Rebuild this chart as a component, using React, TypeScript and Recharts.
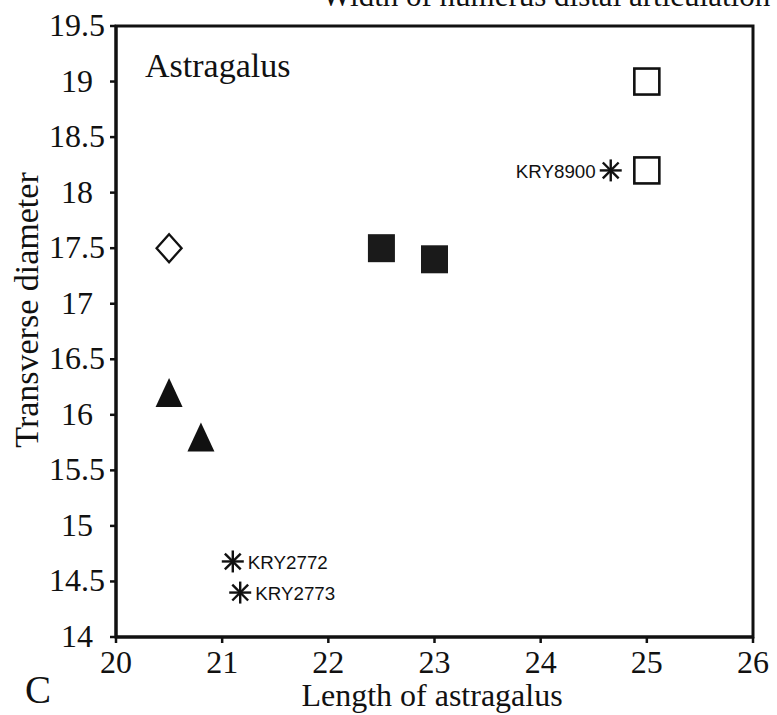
import React from 'react';
import { ScatterChart, Scatter, XAxis, YAxis, ReferenceArea } from 'recharts';

// ---- data ----
const openSquares = [
  { x: 25, y: 19.0 },
  { x: 25, y: 18.2 },
];
const filledSquares = [
  { x: 22.5, y: 17.5 },
  { x: 23.0, y: 17.4 },
];
const openDiamonds = [{ x: 20.5, y: 17.5 }];
const filledTriangles = [
  { x: 20.5, y: 16.2 },
  { x: 20.8, y: 15.8 },
];
const asterisks = [
  { x: 24.66, y: 18.2, label: 'KRY8900' },
  { x: 21.1, y: 14.68, label: 'KRY2772' },
  { x: 21.17, y: 14.4, label: 'KRY2773' },
];
const xTicks = [20, 21, 22, 23, 24, 25, 26];
const yTicks = [14, 14.5, 15, 15.5, 16, 16.5, 17, 17.5, 18, 18.5, 19, 19.5];
const leftLabels = ['KRY8900'];

const SERIF = '"Liberation Serif", "Times New Roman", Times, serif';
const SANS = '"Liberation Sans", Arial, sans-serif';
const INK = '#111';

const OpenSquare = (p: any) => (
  <rect x={p.cx - 12.5} y={p.cy - 13} width={25} height={26} fill="#fff" stroke={INK} strokeWidth={2.6} />
);
const FilledSquare = (p: any) => (
  <rect x={p.cx - 13.5} y={p.cy - 14} width={27} height={28} fill="#1a1a1a" />
);
const OpenDiamond = (p: any) => (
  <polygon
    points={`${p.cx},${p.cy - 14} ${p.cx + 12.5},${p.cy} ${p.cx},${p.cy + 14} ${p.cx - 12.5},${p.cy}`}
    fill="#fff"
    stroke={INK}
    strokeWidth={2.3}
  />
);
const FilledTriangle = (p: any) => (
  <polygon
    points={`${p.cx},${p.cy - 14.5} ${p.cx + 13.5},${p.cy + 14.5} ${p.cx - 13.5},${p.cy + 14.5}`}
    fill={INK}
  />
);
const Asterisk = (p: any) => {
  const r = 11;
  const d = r * 0.72;
  const label = p.payload?.label ?? '';
  const left = leftLabels.includes(label);
  return (
    <g>
      <g stroke={INK} strokeWidth={2.4}>
        <line x1={p.cx} y1={p.cy - r} x2={p.cx} y2={p.cy + r} />
        <line x1={p.cx - d} y1={p.cy - d} x2={p.cx + d} y2={p.cy + d} />
        <line x1={p.cx - d} y1={p.cy + d} x2={p.cx + d} y2={p.cy - d} />
        <line x1={p.cx - r} y1={p.cy} x2={p.cx + r} y2={p.cy} />
      </g>
      <text
        x={left ? p.cx - 15 : p.cx + 15}
        y={p.cy + 7.5}
        textAnchor={left ? 'end' : 'start'}
        style={{ fontFamily: SANS, fontSize: 19 }}
        fill={INK}
        textLength={80}
        lengthAdjust="spacingAndGlyphs"
      >
        {label}
      </text>
    </g>
  );
};

const serifStyle = { fontFamily: SERIF, fontSize: 32 };

const XTick = (p: any) => {
  const v = Number(p.payload?.value);
  return (
    <text x={p.x} y={p.y + 30} textAnchor="middle" style={serifStyle} fill={INK}>
      {String(v)}
    </text>
  );
};
const YTick = (p: any) => {
  const v = Number(p.payload?.value);
  const isInt = Math.abs(v - Math.round(v)) < 1e-9;
  return (
    <text x={p.x - (isInt ? 17 : 5)} y={p.y + 10} textAnchor="end" style={serifStyle} fill={INK}>
      {String(v)}
    </text>
  );
};

export default function App() {
  return (
    <div style={{ position: 'absolute', left: 0, top: 0, width: 777, height: 715, background: '#fff' }}>
      <ScatterChart width={777} height={715} margin={{ top: 26, right: 24, bottom: 38, left: 16 }}>
        <XAxis
          type="number"
          dataKey="x"
          domain={[20, 26]}
          ticks={xTicks}
          height={40}
          tick={<XTick />}
          tickSize={6}
          tickMargin={0}
          axisLine={{ stroke: INK, strokeWidth: 3 }}
          tickLine={{ stroke: INK, strokeWidth: 2.5 }}
        />
        <YAxis
          type="number"
          dataKey="y"
          domain={[14, 19.5]}
          ticks={yTicks}
          width={100}
          tick={<YTick />}
          tickSize={6}
          tickMargin={0}
          axisLine={{ stroke: INK, strokeWidth: 3 }}
          tickLine={{ stroke: INK, strokeWidth: 2.5 }}
        />
        <ReferenceArea x1={20} x2={26} y1={14} y2={19.5} fill="none" stroke={INK} strokeWidth={3} />
        <Scatter data={openSquares} shape={OpenSquare} isAnimationActive={false} />
        <Scatter data={filledSquares} shape={FilledSquare} isAnimationActive={false} />
        <Scatter data={openDiamonds} shape={OpenDiamond} isAnimationActive={false} />
        <Scatter data={filledTriangles} shape={FilledTriangle} isAnimationActive={false} />
        <Scatter data={asterisks} shape={Asterisk} isAnimationActive={false} />
      </ScatterChart>
      <svg
        width={777}
        height={715}
        style={{ position: 'absolute', left: 0, top: 0, pointerEvents: 'none' }}
      >
        <text x={322} y={6} style={{ fontFamily: SERIF, fontSize: 31 }} fill={INK}>
          Width of humerus distal articulation
        </text>
        <text x={145} y={77} style={{ fontFamily: SERIF, fontSize: 34 }} fill={INK}>
          Astragalus
        </text>
        <text x={432} y={706} textAnchor="middle" style={{ fontFamily: SERIF, fontSize: 32 }} fill={INK}>
          Length of astragalus
        </text>
        <text
          x={0}
          y={0}
          transform="translate(38,310) rotate(-90)"
          textAnchor="middle"
          style={{ fontFamily: SERIF, fontSize: 34 }}
          fill={INK}
        >
          Transverse diameter
        </text>
        <text x={25} y={703} style={{ fontFamily: SERIF, fontSize: 39 }} fill={INK}>
          C
        </text>
      </svg>
    </div>
  );
}
